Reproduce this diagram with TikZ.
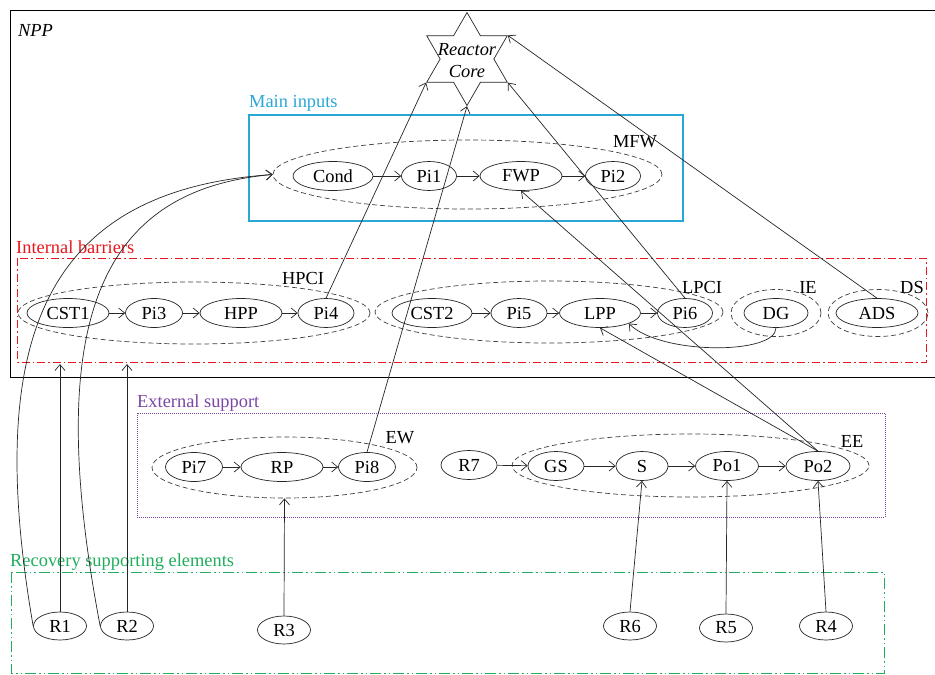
\documentclass[tikz,border=0pt]{standalone}
\usepackage{fontspec}
\setmainfont{Liberation Serif}
\usetikzlibrary{shapes.geometric,arrows.meta}
\definecolor{cyanbox}{HTML}{2AA7D5}
\definecolor{redbox}{HTML}{E8161E}
\definecolor{purplebox}{HTML}{7A47A6}
\definecolor{greenbox}{HTML}{1FAE5C}
\tikzset{
 el/.style={ellipse,draw=black!85,line width=0.7pt,inner sep=0pt,minimum height=29pt,font=\fontsize{18.4}{20}\selectfont},
 grp/.style={ellipse,draw=black!75,dash pattern=on 5pt off 3pt,line width=0.7pt,inner sep=0pt},
 lbl/.style={font=\fontsize{18.4}{20}\selectfont,inner sep=0pt},
 arr/.style={-{Straight Barb[length=6pt,width=10pt]},line width=0.7pt,draw=black!85}
}
\begin{document}
\begin{tikzpicture}[x=1pt,y=-1pt]
\useasboundingbox (0,0) rectangle (935,675);
\fill[white] (0,0) rectangle (935,675);

% frames
\draw[line width=1pt] (10,10) rectangle (945,377);
\node[lbl,anchor=west,font=\itshape\fontsize{18.4}{20}\selectfont] (npp) at (18,30) {NPP};
\draw[cyanbox,line width=1.2pt] (249,115) rectangle (683,221);
\node[lbl,anchor=west,text=cyanbox] (mainlbl) at (249,103) {Main inputs};
\draw[redbox,line width=0.9pt,dash pattern=on 8pt off 3pt on 1.5pt off 3pt] (17,258) rectangle (926,362);
\node[lbl,anchor=west,text=redbox] (iblbl) at (16,247) {Internal barriers};
\draw[purplebox,line width=0.8pt,dash pattern=on 1pt off 1pt] (137,413) rectangle (885,517);
\node[lbl,anchor=west,text=purplebox] (eslbl) at (137,403) {External support};
\draw[greenbox,line width=0.9pt,dash pattern=on 11pt off 3pt on 1.5pt off 3pt on 1.5pt off 3pt] (11,572) rectangle (884,673);
\node[lbl,anchor=west,text=greenbox] (rslbl) at (10,562) {Recovery supporting elements};

% reactor core
\node[star,star points=6,star point ratio=1.732,draw=black!85,line width=0.7pt,minimum size=93pt,inner sep=0pt] (core) at (467,59) {};
\node[lbl,font=\itshape\fontsize{18.4}{22}\selectfont,align=center] (coretext) at (467,61) {Reactor\\Core};

% groups
\node[grp,minimum width=389pt,minimum height=69pt] (MFW) at (467.5,174.5) {};
\node[lbl] (MFWl) at (635,142) {MFW};
\node[grp,minimum width=352pt,minimum height=62pt] (HPCI) at (194,313) {};
\node[lbl] (HPCIl) at (303,278) {HPCI};
\node[grp,minimum width=348pt,minimum height=62pt] (LPCI) at (549,312) {};
\node[lbl] (LPCIl) at (702,287) {LPCI};
\node[grp,minimum width=90pt,minimum height=47pt] (IE) at (776,313) {};
\node[lbl] (IEl) at (808,287) {IE};
\node[grp,minimum width=100pt,minimum height=47pt] (DS) at (878,313) {};
\node[lbl] (DSl) at (912,287) {DS};
\node[grp,minimum width=265pt,minimum height=61pt] (EW) at (284.5,467.5) {};
\node[lbl] (EWl) at (400,438) {EW};
\node[grp,minimum width=357pt,minimum height=63pt] (EE) at (690.5,465.5) {};
\node[lbl] (EEl) at (852,441) {EE};

% main inputs
\node[el,minimum width=80pt] (Cond) at (333,176) {Cond};
\node[el,minimum width=55pt] (Pi1) at (429,176) {Pi1};
\node[el,minimum width=82pt] (FWP) at (521,176) {FWP};
\node[el,minimum width=55pt] (Pi2) at (613,176) {Pi2};
% internal barriers
\node[el,minimum width=82pt] (CST1) at (68,313) {CST1};
\node[el,minimum width=57pt] (Pi3) at (154,313) {Pi3};
\node[el,minimum width=82pt] (HPP) at (241,313) {HPP};
\node[el,minimum width=56pt] (Pi4) at (326,313) {Pi4};
\node[el,minimum width=80pt] (CST2) at (432,313) {CST2};
\node[el,minimum width=56pt] (Pi5) at (519,313) {Pi5};
\node[el,minimum width=81pt] (LPP) at (600,313) {LPP};
\node[el,minimum width=55pt] (Pi6) at (685,313) {Pi6};
\node[el,minimum width=64pt] (DG) at (776,313) {DG};
\node[el,minimum width=82pt] (ADS) at (877,313) {ADS};
% external support
\node[el,minimum width=57pt] (Pi7) at (194,467) {Pi7};
\node[el,minimum width=82pt] (RP) at (282,467) {RP};
\node[el,minimum width=57pt] (Pi8) at (367,467) {Pi8};
\node[el,minimum width=56pt] (R7) at (469,465) {R7};
\node[el,minimum width=56pt] (GS) at (556,466) {GS};
\node[el,minimum width=52pt] (S) at (642,466) {S};
\node[el,minimum width=63pt] (Po1) at (727,466) {Po1};
\node[el,minimum width=64pt] (Po2) at (818,466) {Po2};
% recovery
\node[el,minimum width=53pt,minimum height=28pt] (R1) at (60,626) {R1};
\node[el,minimum width=53pt,minimum height=28pt] (R2) at (127,626) {R2};
\node[el,minimum width=53pt,minimum height=28pt] (R3) at (284,630) {R3};
\node[el,minimum width=53pt,minimum height=28pt] (R6) at (630,626) {R6};
\node[el,minimum width=53pt,minimum height=28pt] (R5) at (726,628) {R5};
\node[el,minimum width=53pt,minimum height=28pt] (R4) at (826,626) {R4};

% chains
\draw[arr] (Cond) -- (Pi1);
\draw[arr] (Pi1) -- (FWP);
\draw[arr] (FWP) -- (Pi2);
\draw[arr] (CST1) -- (Pi3);
\draw[arr] (Pi3) -- (HPP);
\draw[arr] (HPP) -- (Pi4);
\draw[arr] (CST2) -- (Pi5);
\draw[arr] (Pi5) -- (LPP);
\draw[arr] (LPP) -- (Pi6);
\draw[arr] (Pi7) -- (RP);
\draw[arr] (RP) -- (Pi8);
\draw[arr] (R7) -- (GS);
\draw[arr] (GS) -- (S);
\draw[arr] (S) -- (Po1);
\draw[arr] (Po1) -- (Po2);

% to reactor core
\draw[arr] (Pi4.north) -- (core.outer point 3);
\draw[arr] (Pi8.north) -- (core.outer point 4);
\draw[arr] (Pi6.north) -- (core.outer point 5);
\draw[arr] (ADS.north) -- (core.outer point 6);

% power
\draw[arr] (Po2.north) -- (FWP.south);
\draw[arr] (Po2.north) -- (LPP.south);
\draw[arr] (DG.south) .. controls (776,355) and (660,355) .. (LPP.south east);

% recovery
\coordinate (ib1) at (60,364);
\coordinate (ib2) at (127,364);
\draw[arr] (R1.north) -- (ib1);
\draw[arr] (R2.north) -- (ib2);
\draw[arr] (R1.west) .. controls (-18,330) and (50,190) .. (MFW.west);
\draw[arr] (R2.west) .. controls (42,320) and (100,190) .. (MFW.west);
\draw[arr] (R3.north) -- (EW.south);
\draw[arr] (R6.north) -- (S.south);
\draw[arr] (R5.north) -- (Po1.south);
\draw[arr] (R4.north) -- (Po2.south);
\end{tikzpicture}
\end{document}
